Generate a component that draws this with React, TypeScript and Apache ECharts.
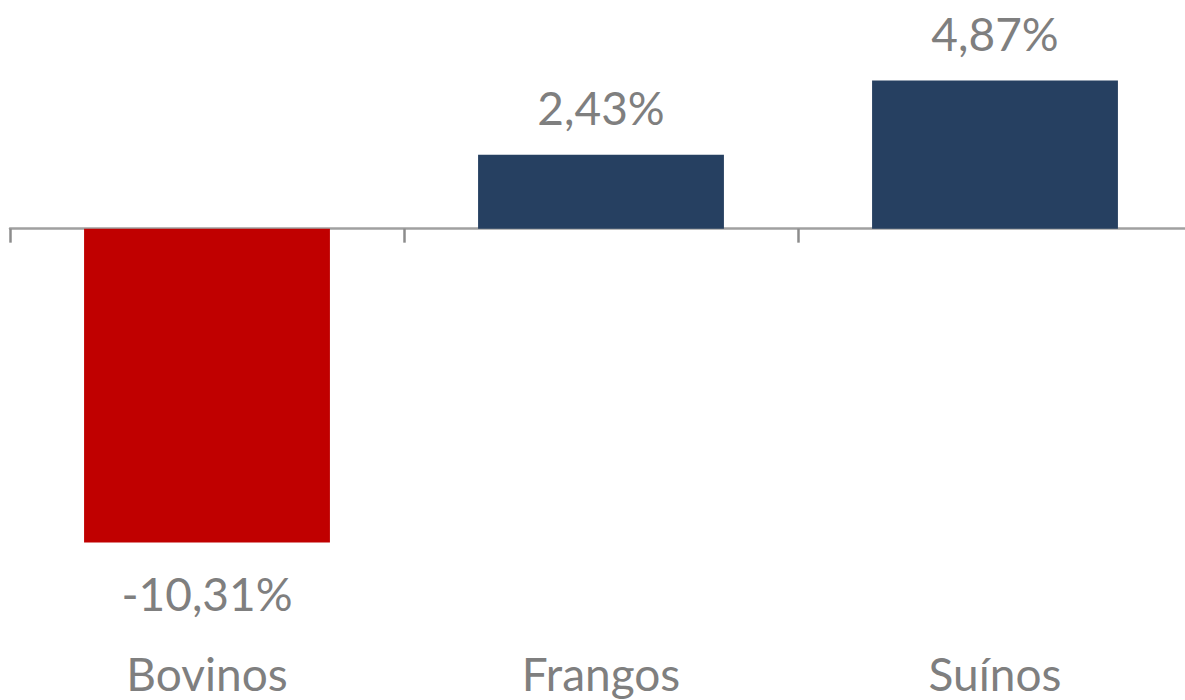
import React, { useEffect, useRef } from "react";
import * as echarts from "echarts";

const categories = ["Bovinos", "Frangos", "Suínos"];
const values = [-10.31, 2.43, 4.87];
const barColors = ["#C00000", "#264061", "#264061"];

const FONT = "Lato";
const TEXT_COLOR = "#7F7F7F";

export default function App() {
  const ref = useRef<HTMLDivElement>(null);
  useEffect(() => {
    if (!ref.current) return;
    const chart = echarts.init(ref.current, undefined, { renderer: "svg" });
    const fmt = (v: number) => v.toFixed(2).replace(".", ",") + "%";
    chart.setOption({
      animation: false,
      grid: { left: 10, top: 46, width: 1182, height: 548, containLabel: false },
      xAxis: [
        {
          type: "category",
          data: categories,
          axisLine: { show: true, onZero: true, lineStyle: { color: "#A0A0A0", width: 2.5 } },
          axisTick: { show: true, length: 14, lineStyle: { color: "#8C8C8C", width: 2.5 } },
          axisLabel: { show: false },
        },
        {
          type: "category",
          data: categories,
          position: "bottom",
          axisLine: { show: false, onZero: false },
          axisTick: { show: false },
          axisLabel: {
            show: true,
            color: TEXT_COLOR,
            fontFamily: FONT,
            fontSize: 46,
            margin: 56,
          },
        },
      ],
      yAxis: {
        type: "value",
        min: -12,
        max: 6,
        show: false,
        splitLine: { show: false },
      },
      series: [
        {
          type: "bar",
          xAxisIndex: 0,
          barWidth: "62.4%",
          data: values.map((v, i) => ({
            value: v,
            itemStyle: { color: barColors[i] },
            label: {
              show: true,
              position: v < 0 ? "bottom" : "top",
              distance: v < 0 ? 28 : 24,
              formatter: fmt(v),
              color: TEXT_COLOR,
              fontFamily: FONT,
              fontSize: 46,
            },
          })),
        },
      ],
    });
    return () => chart.dispose();
  }, []);
  return (
    <div style={{ position: "absolute", left: 0, top: 0, width: 1185, height: 700, overflow: "hidden" }}>
      <div ref={ref} style={{ width: 1200, height: 700 }} />
    </div>
  );
}
